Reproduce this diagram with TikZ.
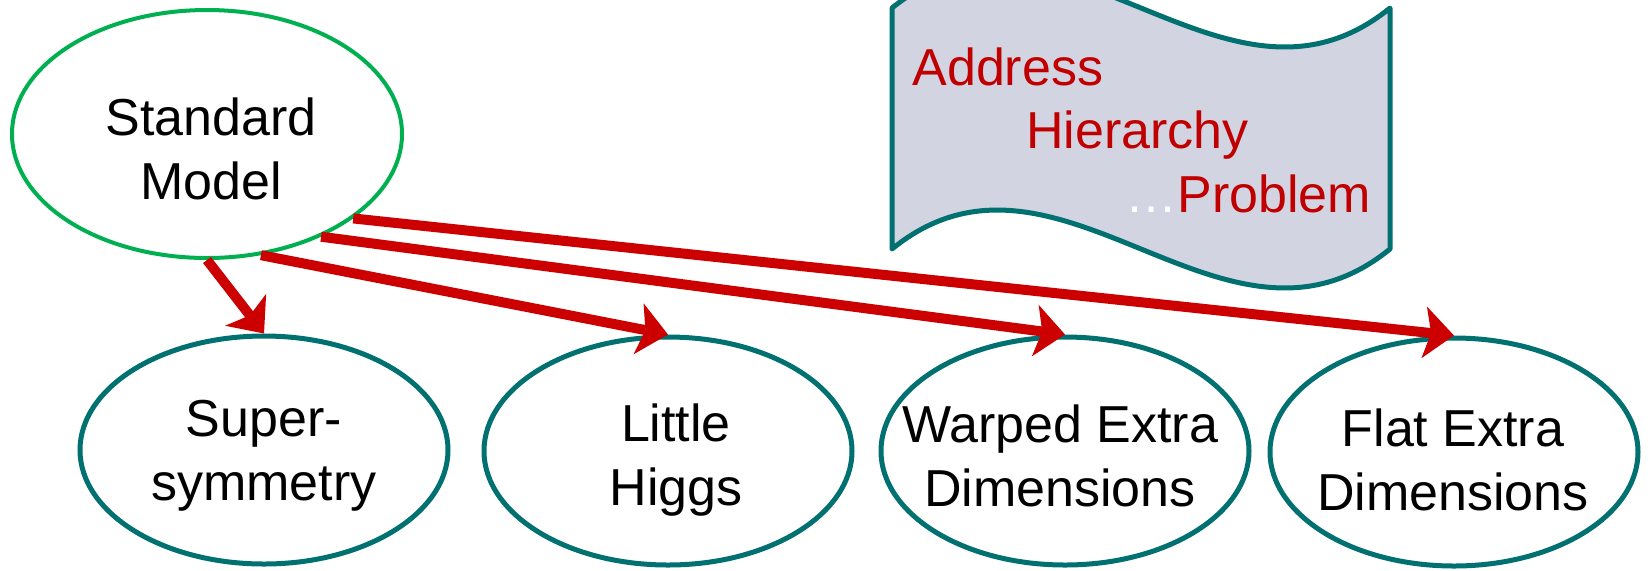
\documentclass[tikz,border=0pt]{standalone}
\usepackage{fontspec}
\setmainfont{Liberation Sans}
\usetikzlibrary{arrows.meta,shapes.geometric}
\definecolor{arrowred}{RGB}{204,0,0}
\definecolor{textred}{RGB}{192,0,0}
\definecolor{smgreen}{RGB}{0,176,80}
\definecolor{tealc}{RGB}{0,112,112}
\definecolor{bannerfill}{RGB}{211,212,226}
\begin{document}
\begin{tikzpicture}[x=0.5pt,y=-0.5pt,
  bigtext/.style={font=\fontsize{26pt}{32pt}\selectfont, align=center, inner sep=0pt},
  smell/.style={ellipse, draw=smgreen, line width=2pt, minimum width=195pt, minimum height=124pt, inner sep=0pt},
  theory/.style={ellipse, draw=tealc, line width=2.5pt, minimum width=184pt, minimum height=114pt, inner sep=0pt},
  link/.style={draw=arrowred, line width=5pt, -{Stealth[length=15pt, width=26pt, inset=3.5pt, line width=0pt]}},
  banner/.style={draw=tealc, fill=bannerfill, line width=2.5pt, line join=round},
  bannertext/.style={font=\fontsize{26pt}{32pt}\selectfont, text=textred, inner sep=0pt, anchor=base west}]
\useasboundingbox (0,0) rectangle (1650,570);

% banner
\draw[banner] (892,8) .. controls (1058,-127) and (1224,143) .. (1390,8)
  -- (1390,249) .. controls (1224,384) and (1058,114) .. (892,249) -- cycle;
\node[bannertext] (addr) at (912,85) {Address};
\node[bannertext] (hier) at (1026,148) {Hierarchy};
\node[bannertext] (prob) at (1125,212) {\textcolor{white}{…}Problem};

% ellipses
\node[smell] (sm) at (207,134) {};
\node[theory] (susy) at (264,450) {};
\node[theory] (lh) at (668,451) {};
\node[theory] (wed) at (1065,451) {};
\node[theory] (fed) at (1454,452) {};

% texts
\node[bigtext] (smT) at (211,149) {Standard\\Model};
\node[bigtext] (susyT) at (264,456) {Super-\\symmetry};
\node[bigtext] (lhT) at (676,460) {Little\\Higgs};
\node[bigtext] (wedT) at (1060,456) {Warped Extra\\Dimensions};
\node[bigtext] (fedT) at (1453,460) {Flat Extra\\Dimensions};

% arrows
\draw[link] (sm.-90) -- (susy.north);
\draw[link] (sm.-66) -- (lh.north);
\draw[link] (sm.-42) -- (wed.north);
\draw[link] (sm.-30) -- (fed.north);
\end{tikzpicture}
\end{document}
